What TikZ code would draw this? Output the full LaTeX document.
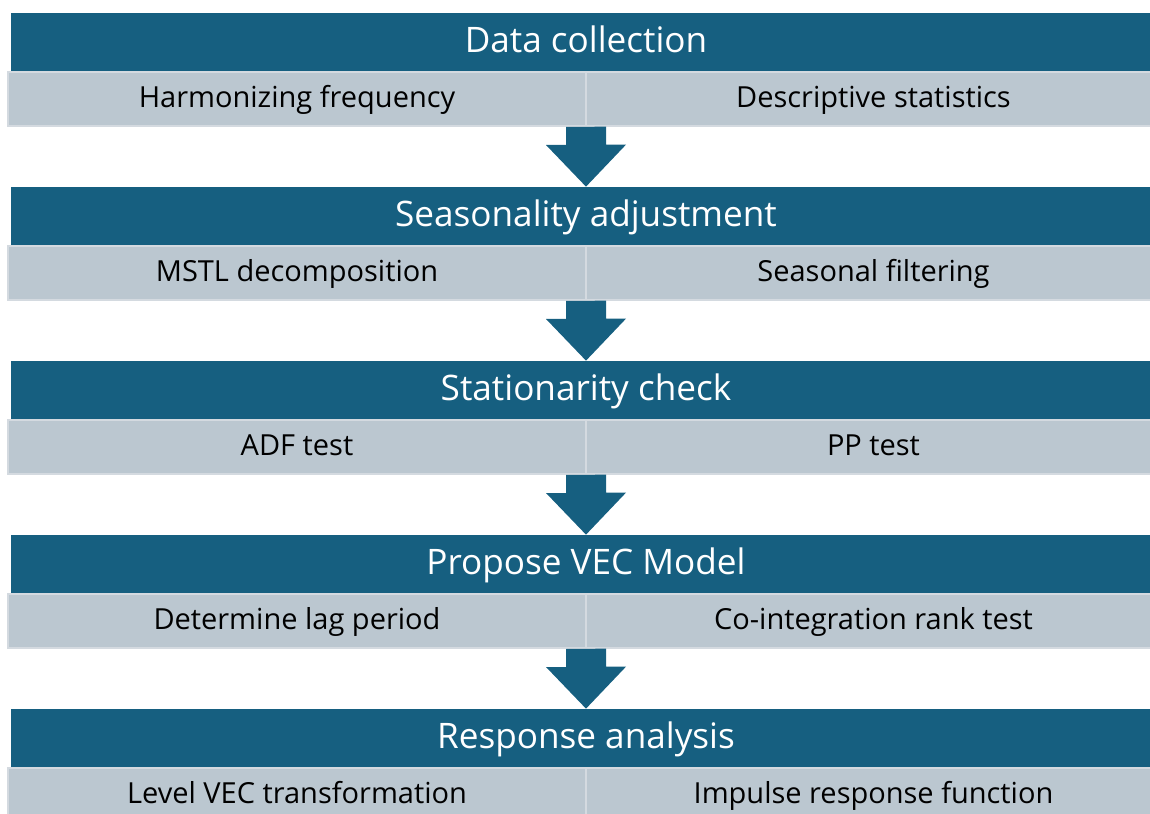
\documentclass[tikz,border=0pt]{standalone}
\usepackage{fontspec}
\setmainfont{Open Sans}
\usetikzlibrary{positioning}
\definecolor{bandblue}{HTML}{165F80}
\definecolor{cellgray}{HTML}{BBC7D0}
\definecolor{celledge}{HTML}{D4DAE0}
\tikzset{
  band/.style={fill=bandblue,inner sep=0pt,minimum width=23cm,minimum height=1.18cm,
    text height=15pt,text depth=3.9pt,text=white,font=\fontsize{20}{24}\selectfont},
  lcell/.style={fill=cellgray,draw=celledge,line width=1.3pt,inner sep=0pt,minimum width=11.56cm,
    minimum height=1.08cm,text height=12pt,text depth=1.8pt,font=\fontsize{16.5}{20}\selectfont},
  rcell/.style={lcell,minimum width=11.5cm},
  down/.style={fill=bandblue}
}

\begin{document}
\begin{tikzpicture}[x=0.02cm,y=-0.02cm]
\useasboundingbox (0,0) rectangle (1150,814);
\clip (0,0) rectangle (1150,814);
% stage 1
\node[band] (s0) at (586,42.5) {Data collection};
\node[lcell] (l0) at (297,99) {Harmonizing frequency};
\node[rcell] (r0) at (873.5,99) {Descriptive statistics};
% stage 2
\node[band] (s1) at (586,216.5) {Seasonality adjustment};
\node[lcell] (l1) at (297,273) {MSTL decomposition};
\node[rcell] (r1) at (873.5,273) {Seasonal filtering};
% stage 3
\node[band] (s2) at (586,390.5) {Stationarity check};
\node[lcell] (l2) at (297,447) {ADF test};
\node[rcell] (r2) at (873.5,447) {PP test};
% stage 4
\node[band] (s3) at (586,564.5) {Propose VEC Model};
\node[lcell] (l3) at (297,621) {Determine lag period};
\node[rcell] (r3) at (873.5,621) {Co-integration rank test};
% stage 5
\node[band] (s4) at (586,738.5) {Response analysis};
\node[lcell] (l4) at (297,795) {Level VEC transformation};
\node[rcell] (r4) at (873.5,795) {Impulse response function};
% block arrows
\coordinate (a0) at (586,127);
\coordinate (a1) at (586,301);
\coordinate (a2) at (586,475);
\coordinate (a3) at (586,649);
\fill[down] (a0) ++(-20,0) -- ++(0,18) -- ++(-20,0) -- (s1.north) -- ++(40,-42) -- ++(-20,0) -- ++(0,-18) -- cycle;
\fill[down] (a1) ++(-20,0) -- ++(0,18) -- ++(-20,0) -- (s2.north) -- ++(40,-42) -- ++(-20,0) -- ++(0,-18) -- cycle;
\fill[down] (a2) ++(-20,0) -- ++(0,18) -- ++(-20,0) -- (s3.north) -- ++(40,-42) -- ++(-20,0) -- ++(0,-18) -- cycle;
\fill[down] (a3) ++(-20,0) -- ++(0,18) -- ++(-20,0) -- (s4.north) -- ++(40,-42) -- ++(-20,0) -- ++(0,-18) -- cycle;
\end{tikzpicture}
\end{document}
